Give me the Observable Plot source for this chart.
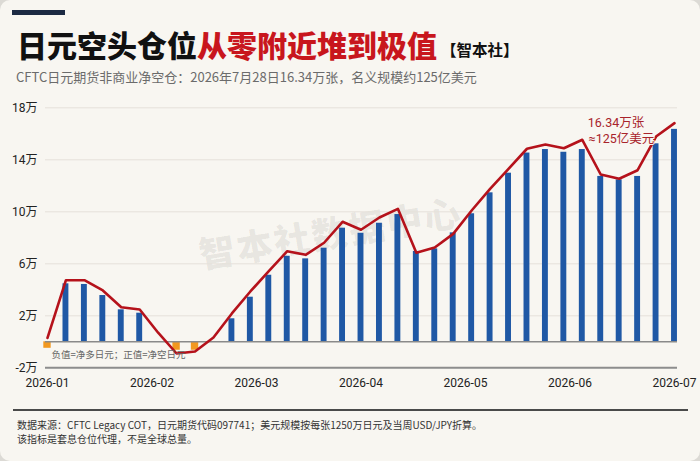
<!DOCTYPE html>
<html><head><meta charset="utf-8">
<script src="https://cdn.jsdelivr.net/npm/d3@7"></script>
<script src="https://cdn.jsdelivr.net/npm/@observablehq/plot@0.6"></script>
<style>
html,body{margin:0;padding:0;background:#dcdad5;}
#page{position:relative;width:700px;height:461px;overflow:hidden;background:#f8f6f1;border-radius:10px;font-family:"Noto Sans CJK SC",sans-serif;}
#topbar{position:absolute;left:12px;top:10px;width:53px;height:5px;background:#1c2a43;}
#title{position:absolute;left:17px;top:24px;font-size:30px;font-weight:900;line-height:40px;white-space:nowrap;color:#111;}
#title .red{color:#c8161d;}
#title .tag{font-size:15.5px;font-weight:700;margin-left:4px;vertical-align:1px;}
#sub{position:absolute;left:16px;top:68px;font-size:13px;line-height:18px;color:#6b6b6b;white-space:nowrap;}
#wm{position:absolute;left:330px;top:231px;transform:translate(-50%,-50%) rotate(-9.4deg);font-size:36px;font-weight:900;letter-spacing:2px;color:rgba(0,0,0,0.07);white-space:nowrap;z-index:0;}
#chart{position:absolute;left:0;top:90px;z-index:1;}
#sep{position:absolute;left:13px;top:409px;width:675px;height:1.5px;background:#4a4a4a;}
#foot{position:absolute;left:17px;top:418px;font-size:10px;line-height:14.3px;color:#333;white-space:nowrap;}
</style></head>
<body>
<div id="page">
  <div id="topbar"></div>
  <div id="title">日元空头仓位<span class="red">从零附近堆到极值</span><span class="tag">【智本社】</span></div>
  <div id="sub">CFTC日元期货非商业净空仓：2026年7月28日16.34万张，名义规模约125亿美元</div>
  <div id="wm">智本社数据中心</div>
  <div id="chart"></div>
  <div id="sep"></div>
  <div id="foot">数据来源：CFTC Legacy COT，日元期货代码097741；美元规模按每张1250万日元及当周USD/JPY折算。<br>该指标是套息仓位代理，不是全球总量。</div>
</div>
<script>
// net short positions, 万张 (weekly bars)
const barValues = [-0.5, 4.46, 4.41, 3.56, 2.46, 2.2, 0, -0.65, -0.65, 0,
  1.77, 3.43, 5.12, 6.58, 6.38, 7.2, 8.74, 8.35, 9.12, 9.79,
  6.95, 7.15, 8.38, 9.85, 11.46, 12.97, 14.52, 14.79, 14.58, 14.79,
  12.72, 12.46, 12.72, 15.23, 16.34];
// red trend line, 万张
const lineValues = [0.3, 4.74, 4.74, 3.95, 2.66, 2.48, 0.7, -0.9, -0.75, 0.33,
  2.18, 3.87, 5.43, 6.97, 6.69, 7.62, 9.23, 8.62, 9.56, 10.23,
  6.85, 7.25, 8.3, 10.1, 11.77, 13.31, 14.85, 15.18, 14.89, 15.54,
  12.87, 12.54, 13.2, 15.79, 16.82];
const monthLabels = ["2026-01","2026-02","2026-03","2026-04","2026-05","2026-06","2026-07"];
const yTicks = [-2, 2, 6, 10, 14, 18];
const notionalUSD = "≈125亿美元";
const legendNote = "负值=净多日元；正值=净空日元";

const N = barValues.length;
const data = barValues.map((v, i) => ({i, v, line: lineValues[i]}));
const last = data[N - 1];
const tickPos = monthLabels.map((_, k) => k * (N - 1) / (monthLabels.length - 1));
const blue = "#1f58a5", orange = "#f2981f", red = "#b5121b";

const chart = Plot.plot({
  width: 700, height: 310,
  marginLeft: 45, marginRight: 23, marginTop: 17.3, marginBottom: 32.7,
  style: {background: "transparent", fontFamily: "Roboto, 'Noto Sans CJK SC', sans-serif", fontSize: "12px", color: "#222"},
  x: {domain: [0, N - 1], insetLeft: 2, insetRight: 3, axis: null, label: null},
  y: {domain: [yTicks[0], yTicks[yTicks.length - 1]], axis: null, label: null},
  marks: [
    Plot.ruleY(yTicks.slice(1), {stroke: "#e5e2db", strokeWidth: 1}),
    Plot.ruleY([yTicks[0]], {stroke: "#8d8d8d", strokeWidth: 2}),
    Plot.axisY({ticks: yTicks, tickSize: 0, tickPadding: 8, tickFormat: d => `${d}万`, fontSize: 12, fill: "#222", label: null}),
    Plot.axisX({ticks: tickPos, tickSize: 0, tickPadding: 11, fontSize: 12, fill: "#222", label: null,
      tickFormat: v => monthLabels[Math.round(v * (monthLabels.length - 1) / (N - 1))]}),
    Plot.rectY(data.filter(d => d.v > 0), {x1: d => d.i - 0.16, x2: d => d.i + 0.16, y1: 0, y2: "v", fill: blue}),
    Plot.rectY(data.filter(d => d.v < 0), {x1: d => d.i - 0.2, x2: d => d.i + 0.2, y1: 0, y2: "v", fill: orange}),
    Plot.ruleY([0], {stroke: "#8a8a8a", strokeWidth: 1.5}),
    Plot.line(data, {x: "i", y: "line", stroke: red, strokeWidth: 2.6, curve: "linear", strokeLinejoin: "round", strokeLinecap: "round"}),
    Plot.text([last], {x: "i", y: "v", text: d => `${d.v}万张`, dx: -58.5, dy: -6.5, fill: "#a8232b", fontSize: 12.5, stroke: "#f8f6f1", strokeWidth: 2, paintOrder: "stroke"}),
    Plot.text([last], {x: "i", y: "v", text: () => notionalUSD, dx: -53, dy: 10, fill: "#a8232b", fontSize: 12.5, stroke: "#f8f6f1", strokeWidth: 2, paintOrder: "stroke"}),
    Plot.text([legendNote], {frameAnchor: "bottom-left", dx: 6, dy: -10, textAnchor: "start", fontSize: 9.5, fill: "#666", fontFamily: "'Noto Sans CJK SC', sans-serif"})
  ]
});
document.getElementById("chart").appendChild(chart);
</script>
</body></html>
